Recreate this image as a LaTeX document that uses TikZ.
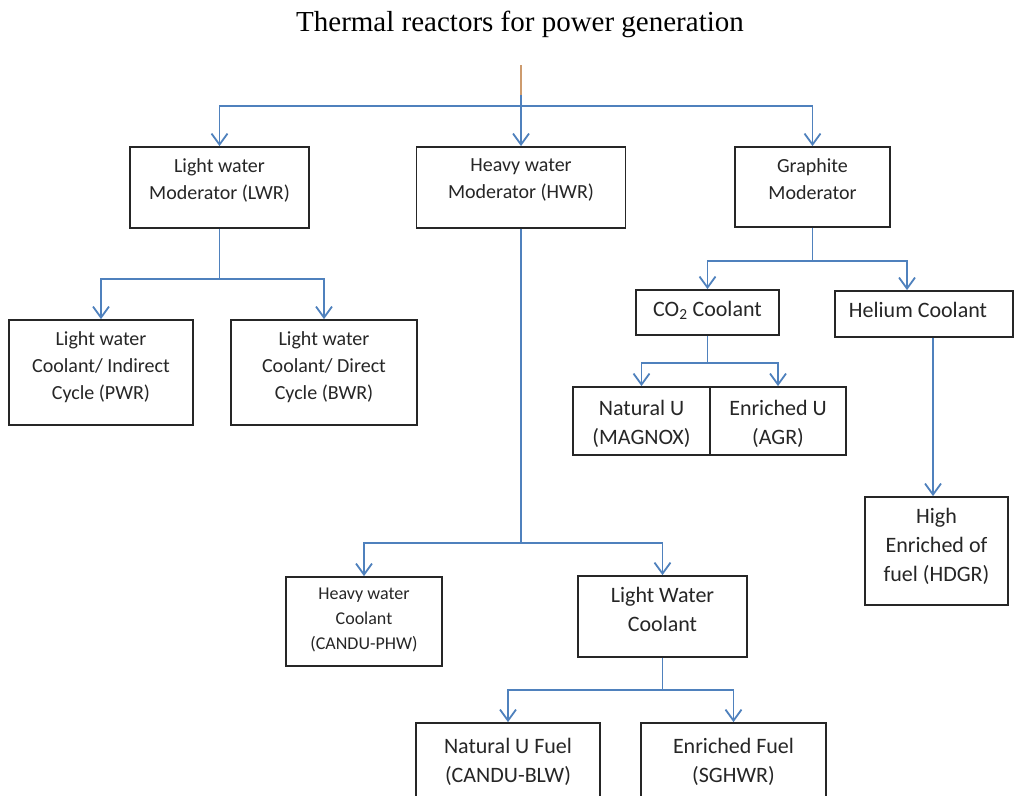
\documentclass[tikz,border=0pt]{standalone}
\usepackage{fontspec}
\setmainfont{Carlito}
\newfontfamily\titlefont{Liberation Serif}
\usetikzlibrary{arrows.meta}
\definecolor{linkblue}{RGB}{79,129,189}
\definecolor{stemtan}{RGB}{205,155,110}

\begin{document}
\begin{tikzpicture}[
    x = 1pt, y = -1pt,
    > = {Straight Barb[length=11pt, width=16pt]},
    box/.style={draw=black!85, line width=1.8pt, inner sep=0pt},
    boxtext/.style={anchor=north, align=center, text=black!85, inner sep=0pt, yshift=-12pt},
    link/.style={draw=linkblue, line width=1.8pt, ->},
    trunk/.style={draw=linkblue, line width=1.8pt},
    stem/.style={draw=stemtan, line width=1.8pt},
    small/.style={font=\fontsize{18}{25}\selectfont},
    mid/.style={font=\fontsize{20}{27}\selectfont},
    big/.style={font=\fontsize{22}{29}\selectfont}
]
    \useasboundingbox (0,0) rectangle (1016,795);
    \fill[white] (0,0) rectangle (1016,795);
    \clip (0,0) rectangle (1016,795);

    \node[font=\titlefont\fontsize{29}{34}\selectfont] (title) at (520,24) {Thermal reactors for power generation};

    % moderators
    \node[box, minimum width=179, minimum height=81,
          label={[boxtext, mid]north:Light water\\Moderator (LWR)}] (lwr) at (219.5,187.5) {};
    \node[box, minimum width=209, minimum height=81,
          label={[boxtext, mid]north:Heavy water\\Moderator (HWR)}] (hwr) at (521,187.5) {};
    \node[box, minimum width=155, minimum height=80,
          label={[boxtext, mid]north:Graphite\\Moderator}] (gra) at (812.5,187) {};

    % light water branch
    \node[box, minimum width=184, minimum height=105,
          label={[boxtext, mid]north:Light water\\Coolant/ Indirect\\Cycle (PWR)}] (pwr) at (101,372.5) {};
    \node[box, minimum width=186, minimum height=105,
          label={[boxtext, mid]north:Light water\\Coolant/ Direct\\Cycle (BWR)}] (bwr) at (324,372.5) {};

    % graphite branch
    \node[box, minimum width=143, minimum height=45,
          label={[boxtext, big]north:CO\textsubscript{2} Coolant}] (co2) at (707.5,312.5) {};
    \node[box, minimum width=178, minimum height=46,
          label={[boxtext, big, xshift=-6pt]north:Helium Coolant}] (hel) at (924,314) {};
    \node[box, minimum width=137, minimum height=68,
          label={[boxtext, big, yshift=-2pt]north:Natural U\\(MAGNOX)}] (magnox) at (641.5,421) {};
    \node[box, minimum width=136, minimum height=68,
          label={[boxtext, big, yshift=-2pt]north:Enriched U\\(AGR)}] (agr) at (778,421) {};
    \node[box, minimum width=143, minimum height=108,
          label={[boxtext, big]north:High\\Enriched of\\fuel (HDGR)}] (hdgr) at (936.5,551) {};

    % heavy water branch
    \node[box, minimum width=156, minimum height=89,
          label={[boxtext, small]north:Heavy water\\Coolant\\(CANDU-PHW)}] (phw) at (364,621.5) {};
    \node[box, minimum width=169, minimum height=81,
          label={[boxtext, big]north:Light Water\\Coolant}] (lwc) at (662.5,616.5) {};
    \node[box, minimum width=184, minimum height=100,
          label={[boxtext, big, yshift=-4pt]north:Natural U Fuel\\(CANDU-BLW)}] (blw) at (508,773) {};
    \node[box, minimum width=185, minimum height=100,
          label={[boxtext, big, yshift=-4pt]north:Enriched Fuel\\(SGHWR)}] (sg) at (733.5,773) {};

    % connectors
    \coordinate (root) at (521,65);
    \coordinate (rootb) at (521,95);
    \coordinate (j0) at (521,106);
    \draw[stem] (root) -- (rootb);
    \draw[link] (rootb) -- (hwr.north);
    \draw[link] (j0) -| (lwr.north);
    \draw[link] (j0) -| (gra.north);

    \path (lwr.south) ++(0,50) coordinate (j1);
    \draw[trunk] (lwr.south) -- (j1);
    \draw[link] (j1) -| (pwr.north);
    \draw[link] (j1) -| (bwr.north);

    \path (gra.south) ++(0,33) coordinate (j2);
    \draw[trunk] (gra.south) -- (j2);
    \draw[link] (j2) -| (co2.north);
    \draw[link] (j2) -| ([xshift=-17pt]hel.north);

    \path (co2.south) ++(0,27) coordinate (j3);
    \draw[trunk] (co2.south) -- (j3);
    \draw[link] (j3) -| (magnox.north);
    \draw[link] (j3) -| (agr.north);

    \draw[link] ([xshift=-3.5pt]hdgr.north |- hel.south) -- ([xshift=-3.5pt]hdgr.north);

    \path (hwr.south) ++(0,314) coordinate (j4);
    \draw[trunk] (hwr.south) -- (j4);
    \draw[link] (j4) -| (phw.north);
    \draw[link] (j4) -| (lwc.north);

    \path (lwc.south) ++(0,32) coordinate (j5);
    \draw[trunk] (lwc.south) -- (j5);
    \draw[link] (j5) -| (blw.north);
    \draw[link] (j5) -| (sg.north);
\end{tikzpicture}
\end{document}
